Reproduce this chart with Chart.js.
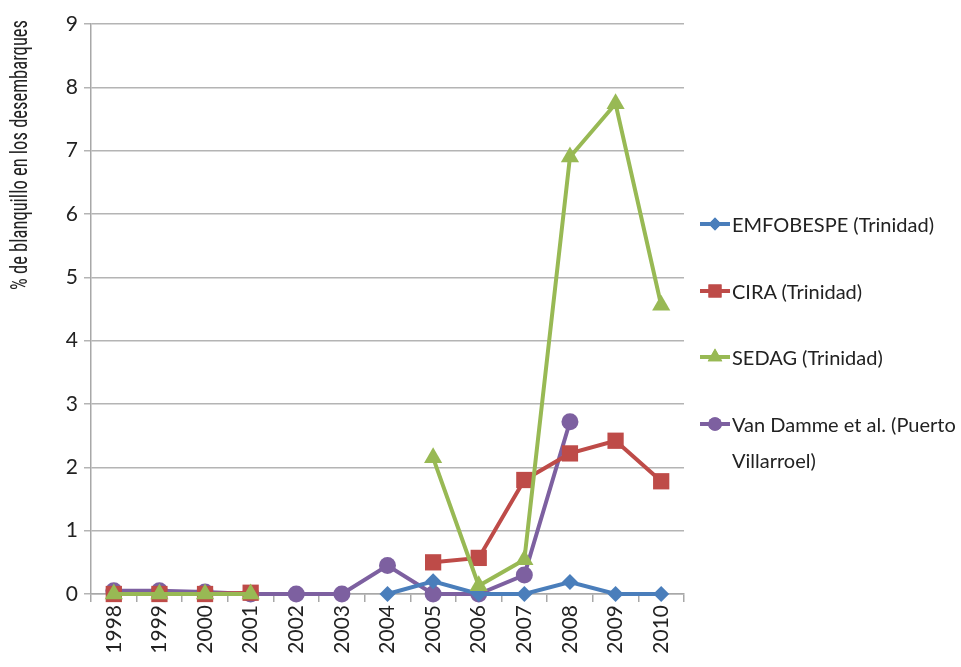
<!DOCTYPE html>
<html>
<head>
<meta charset="utf-8">
<script src="https://cdn.jsdelivr.net/npm/chart.js@4/dist/chart.umd.min.js"></script>
<style>
  html, body { margin: 0; padding: 0; background: #fff; }
  #wrap { position: relative; width: 961px; height: 667px; }
  #legend { position: absolute; left: 698px; top: 0; font-family: Lato, "Open Sans", sans-serif; font-size: 20px; color: #222; }
  .item { position: absolute; left: 0; display: flex; align-items: flex-start; white-space: nowrap; line-height: 36px; }
  .item canvas { margin-top: 7px; flex: none; }
  #ytitle { position: absolute; left: 0; top: 0; white-space: nowrap; font-family: "Liberation Sans Narrow", "Roboto Condensed", sans-serif; font-size: 23px; line-height: 26px; color: #222; transform-origin: 0 0; }
</style>
</head>
<body>
<div id="wrap">
  <canvas id="c" width="961" height="667"></canvas>
  <div id="ytitle">% de blanquillo en los desembarques</div>
  <div id="legend"></div>
</div>
<script>
// Años de muestreo
const years = ['1998','1999','2000','2001','2002','2003','2004','2005','2006','2007','2008','2009','2010'];

// % de blanquillo en los desembarques por fuente
const emfobespe = [null, null, null, null, null, null, 0, 0.2, 0, 0, 0.19, 0, 0];
const cira      = [0, 0, 0, 0.02, null, null, null, 0.5, 0.57, 1.8, 2.22, 2.42, 1.78];
const sedag     = [0, 0, 0, 0, null, null, null, 2.15, 0.13, 0.54, 6.9, 7.74, 4.56];
const vanDamme  = [0.05, 0.05, 0.03, 0, 0, 0, 0.45, 0, 0, 0.3, 2.72, null, null];

const seriesNames = ['EMFOBESPE (Trinidad)', 'CIRA (Trinidad)', 'SEDAG (Trinidad)', 'Van Damme et al. (Puerto Villarroel)'];
const yTicks = [0, 1, 2, 3, 4, 5, 6, 7, 8, 9];

const colors = ['#4a7ebb', '#be4b48', '#98b954', '#7d60a0'];
const styles = ['rectRot', 'rect', 'triangle', 'circle'];
const radii = [8, 11.5, 10.5, 8.5];

function ds(label, data, i) {
  return {
    label, data,
    borderColor: colors[i], backgroundColor: colors[i],
    borderWidth: 4, pointStyle: styles[i], pointRadius: radii[i],
    pointBorderWidth: 0, pointBackgroundColor: colors[i],
    tension: 0, spanGaps: false, clip: false
  };
}

// Dibujo en orden: el último queda encima
const datasets = [
  ds(seriesNames[2], sedag, 2),
  ds(seriesNames[1], cira, 1),
  ds(seriesNames[0], emfobespe, 0),
  ds(seriesNames[3], vanDamme, 3)
];

new Chart(document.getElementById('c'), {
  type: 'line',
  data: { labels: years, datasets },
  options: {
    responsive: false,
    animation: false,
    layout: { padding: { left: 0, right: 277, top: 24, bottom: 0 } },
    plugins: { legend: { display: false }, tooltip: { enabled: false } },
    scales: {
      x: {
        offset: true,
        grid: { display: true, drawOnChartArea: false, drawTicks: true, tickLength: 8, offset: true, color: '#a8a8a8', lineWidth: 1.5 },
        border: { display: true, color: '#a8a8a8', width: 1.5 },
        ticks: { minRotation: 90, maxRotation: 90, autoSkip: false, padding: 3, color: '#222', font: { family: 'Lato, "Open Sans", sans-serif', size: 21 } },
        afterFit: s => { s.height = 73; }
      },
      y: {
        min: 0, max: 9,
        afterBuildTicks: s => { s.ticks = yTicks.map(v => ({ value: v })); },
        grid: { color: '#b4b4b4', lineWidth: 1.5, tickLength: 7 },
        border: { display: true, color: '#a8a8a8', width: 1.5 },
        ticks: { padding: 6, color: '#222', font: { family: 'Lato, "Open Sans", sans-serif', size: 21 } },
        afterFit: s => { s.width = 91; }
      }
    }
  }
});

// Título del eje Y, vertical y comprimido a lo alto del bloque superior
const yTitle = document.getElementById('ytitle');
const titleLen = 270;
const sx = titleLen / yTitle.offsetWidth;
yTitle.style.transform = `translate(7px, ${20 + titleLen}px) rotate(-90deg) scale(${sx}, 1)`;

// Leyenda con símbolo de línea y marcador
const legendTops = [206, 273, 339, 406];
const legendText = [seriesNames[0], seriesNames[1], seriesNames[2], 'Van Damme et al. (Puerto<br>Villarroel)'];
const legend = document.getElementById('legend');
seriesNames.forEach((name, i) => {
  const item = document.createElement('div');
  item.className = 'item';
  item.style.top = legendTops[i] + 'px';
  const sym = document.createElement('canvas');
  sym.width = 34; sym.height = 22;
  const g = sym.getContext('2d');
  g.strokeStyle = colors[i]; g.fillStyle = colors[i]; g.lineWidth = 4;
  g.beginPath(); g.moveTo(2, 11); g.lineTo(32, 11); g.stroke();
  Chart.helpers.drawPoint(g, { pointStyle: styles[i], radius: radii[i] * 0.8, borderWidth: 0 }, 17, 11);
  g.fill();
  const txt = document.createElement('span');
  txt.innerHTML = legendText[i];
  item.appendChild(sym); item.appendChild(txt);
  legend.appendChild(item);
});
</script>
</body>
</html>
